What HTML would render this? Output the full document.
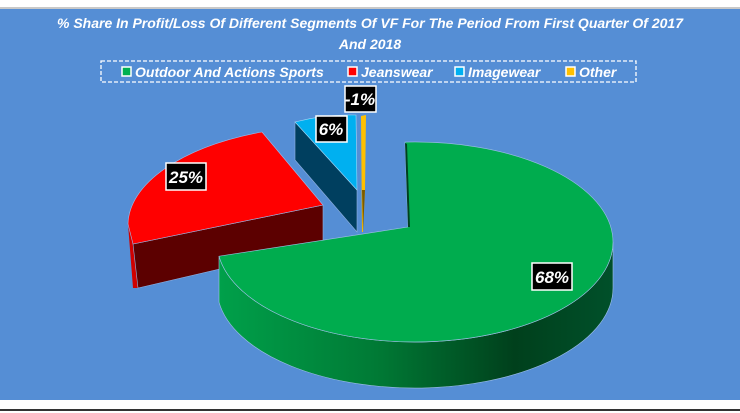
<!DOCTYPE html>
<html><head><style>
body{margin:0;width:740px;height:413px;overflow:hidden;background:#fff;font-family:"Liberation Sans",sans-serif}
</style></head><body>
<svg width="740" height="413" viewBox="0 0 740 413" xmlns="http://www.w3.org/2000/svg" style="position:absolute;left:0;top:0">
<defs>
<linearGradient id="gs" x1="0" x2="1" y1="0" y2="0">
<stop offset="0" stop-color="#00a04a"/><stop offset="0.4" stop-color="#007a35"/><stop offset="0.75" stop-color="#00401c"/><stop offset="1" stop-color="#00502a"/>
</linearGradient>
</defs>
<rect x="0" y="0" width="740" height="413" fill="#fff"/>
<rect x="0" y="7" width="740" height="2" fill="#c8c8c8"/>
<rect x="0" y="9" width="740" height="391" fill="#558ed5"/>
<rect x="0" y="409" width="740" height="2" fill="#333"/>
<g font-family="Liberation Sans, sans-serif" font-style="italic" font-weight="bold" fill="#fff" text-anchor="middle">
<text x="370" y="28" font-size="14">% Share In Profit/Loss  Of Different Segments Of VF For The Period From First Quarter Of 2017</text>
<text x="370" y="49" font-size="14">And 2018</text>
</g>
<rect x="101" y="61" width="535" height="21" fill="none" stroke="#fff" stroke-width="1.3" stroke-dasharray="4,2"/>
<g font-family="Liberation Sans, sans-serif" font-style="italic" font-weight="bold" fill="#fff" font-size="14">
<rect x="122" y="67" width="9" height="9" fill="#00b050" stroke="#fff" stroke-width="1.5"/><text x="135" y="77">Outdoor And Actions Sports</text>
<rect x="348" y="67" width="9" height="9" fill="#ff0000" stroke="#fff" stroke-width="1.5"/><text x="361" y="77">Jeanswear</text>
<rect x="455" y="67" width="9" height="9" fill="#00b0f0" stroke="#fff" stroke-width="1.5"/><text x="468" y="77">Imagewear</text>
<rect x="566" y="67" width="9" height="9" fill="#ffc000" stroke="#fff" stroke-width="1.5"/><text x="579" y="77">Other</text>
</g>
<!-- red slice -->
<path d="M128,224 L133,244 L138,288 L133,288 Z" fill="#d00000"/>
<path d="M133,244 L323,205 L323,245 L138,288 Z" fill="#5c0000" stroke="#8fb0e0" stroke-width="0.6"/>
<path d="M323,205 L262,132 A210,100 0 0 0 128,224 L133,244 Z" fill="#ff0000" stroke="#a0b8e8" stroke-width="0.6"/>
<!-- blue slice -->
<path d="M295,122 L357,190 L357,232 L295,160 Z" fill="#003f5f" stroke="#8fb0e0" stroke-width="0.6"/>
<path d="M295,122 Q325,114 356,115 L357,190 Z" fill="#00b0f0" stroke="#a0d8f8" stroke-width="0.6"/>
<!-- orange -->
<path d="M361,116 L366,115 L365,190 L363,232 L362,232 Z" fill="#ffc000"/>
<path d="M362,190 L365,190 L363,232 Z" fill="#7a5a00"/>
<!-- green -->
<path d="M613,242 A198,100 0 0 1 219,256.2 L219,302.2 A198,100 0 0 0 613,288 Z" fill="url(#gs)" stroke="#9fc0e8" stroke-width="0.6"/>
<path d="M408,227 L405,142.1 A198,100 0 1 1 219,256.2 Z" fill="#00ac4e" stroke="#9fc0e8" stroke-width="0.6"/>
<path d="M405,143 L408,227 L410,227 L407,144 Z" fill="#004020"/>
<!-- labels -->
<g font-family="Liberation Sans, sans-serif" font-style="italic" font-weight="bold" fill="#fff" font-size="17" text-anchor="middle">
<rect x="166" y="163" width="40" height="27" fill="#000" stroke="#fff" stroke-width="1.5"/><text x="186" y="183">25%</text>
<rect x="532" y="263" width="40" height="27" fill="#000" stroke="#fff" stroke-width="1.5"/><text x="552" y="283">68%</text>
<rect x="316" y="116" width="31" height="26" fill="#000" stroke="#fff" stroke-width="1.5"/><text x="331" y="135">6%</text>
<rect x="345" y="86" width="31" height="26" fill="#000" stroke="#fff" stroke-width="1.5"/><text x="360" y="105">-1%</text>
</g>
</svg>
</body></html>
